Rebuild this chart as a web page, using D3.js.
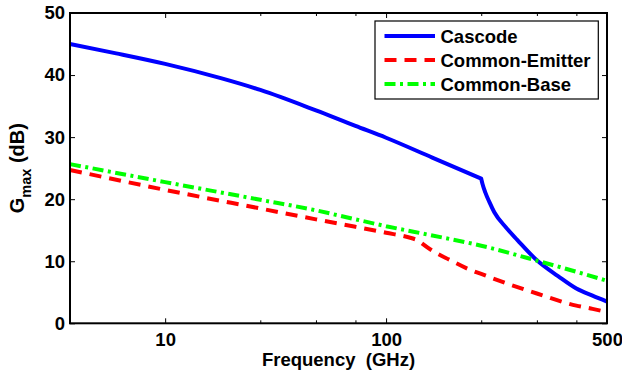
<!DOCTYPE html>
<html>
<head>
<meta charset="utf-8">
<script src="https://cdn.jsdelivr.net/npm/d3@7"></script>
<style>
  html, body { margin: 0; padding: 0; background: #fff; }
  svg { display: block; }
  text { font-family: "Liberation Sans", Arial, Helvetica, sans-serif; font-weight: bold; fill: #000; white-space: pre; }
</style>
</head>
<body>
<svg id="chart" width="622" height="379"></svg>
<script>
// Sweep points on the (log) frequency axis, in axis units
const cascodeX = [5, 7, 10, 15, 20, 30, 40, 50, 70, 100, 101, 103, 106, 110, 120, 130, 150, 175, 200, 225, 250];
const cascodeY = [45.0, 43.5, 41.8, 39.5, 37.6, 34.3, 31.8, 29.9, 26.7, 23.3, 22.4, 21.1, 19.6, 17.9, 15.4, 13.45, 10.15, 7.6, 5.6, 4.45, 3.5];
const cascodeBreak = 100;

const emitterX = [5, 10, 20, 30, 40, 50, 60, 63, 70, 80, 90, 100, 120, 150, 200, 225, 250];
const emitterY = [24.7, 21.5, 18.5, 16.75, 15.55, 14.6, 13.75, 13.4, 11.7, 10.15, 8.85, 7.95, 6.45, 4.8, 2.85, 2.33, 1.8];
const emitterBreak = 63;

const baseX = [5, 10, 20, 30, 40, 50, 70, 100, 150, 200, 250];
const baseY = [25.65, 22.75, 19.9, 18.2, 16.75, 15.65, 14.15, 12.5, 10.1, 8.3, 6.85];
const baseBreak = null;

const seriesNames = ["Cascode", "Common-Emitter", "Common-Base"];

// Axis ticks
const xMajorTicks = [10, 50, 250];
const xTickLabels = ["10", "100", "500"];
const xMinorTicks = [20, 30, 40, 100, 150, 200];
const yTicks = [0, 10, 20, 30, 40, 50];

const xLabel = "Frequency  (GHz)";

const margin = { left: 70, right: 607, top: 13, bottom: 323.3 };
const svg = d3.select("#chart");

const x = d3.scaleLog().domain([5, 250]).range([margin.left, margin.right]);
const y = d3.scaleLinear().domain([0, 50]).range([margin.bottom, margin.top]);

const styles = [
  { color: "#0000ff", dash: null },
  { color: "#ff0000", dash: "12,8" },
  { color: "#00ff00", dash: "11,4.5,3,4.5" }
];

const series = [
  { name: seriesNames[0], xs: cascodeX, ys: cascodeY, brk: cascodeBreak, ...styles[0] },
  { name: seriesNames[1], xs: emitterX, ys: emitterY, brk: emitterBreak, ...styles[1] },
  { name: seriesNames[2], xs: baseX, ys: baseY, brk: baseBreak, ...styles[2] }
];

const fontSize = 18.5;

// Axes: ticks point inward on all four sides
function styleAxis(g) {
  g.select(".domain").remove();
  g.selectAll("line").attr("stroke", "#000").attr("stroke-width", 1);
  g.selectAll("text").attr("font-size", fontSize).attr("font-weight", "bold")
    .attr("font-family", "Liberation Sans, Arial, sans-serif").attr("fill", "#000");
}

const majorFmt = (d) => xTickLabels[xMajorTicks.indexOf(d)];

svg.append("g").attr("transform", `translate(0,${margin.bottom})`)
  .call(d3.axisBottom(x).tickValues(xMajorTicks).tickFormat(majorFmt).tickSize(-5).tickPadding(10))
  .call(styleAxis);
svg.append("g").attr("transform", `translate(0,${margin.bottom})`)
  .call(d3.axisBottom(x).tickValues(xMinorTicks).tickFormat("").tickSize(-3))
  .call(styleAxis);
svg.append("g").attr("transform", `translate(0,${margin.top})`)
  .call(d3.axisTop(x).tickValues(xMajorTicks).tickFormat("").tickSize(-5))
  .call(styleAxis);
svg.append("g").attr("transform", `translate(0,${margin.top})`)
  .call(d3.axisTop(x).tickValues(xMinorTicks).tickFormat("").tickSize(-3))
  .call(styleAxis);
svg.append("g").attr("transform", `translate(${margin.left},0)`)
  .call(d3.axisLeft(y).tickValues(yTicks).tickFormat(d3.format("d")).tickSize(-5).tickPadding(5))
  .call(styleAxis);
svg.append("g").attr("transform", `translate(${margin.right},0)`)
  .call(d3.axisRight(y).tickValues(yTicks).tickFormat("").tickSize(-5))
  .call(styleAxis);

// Curves: smooth on each side of a break point, with a sharp corner at the break
const line = d3.line().x(d => x(d[0])).y(d => y(d[1])).curve(d3.curveMonotoneX);
function curvePath(s) {
  const pts = s.xs.map((v, i) => [v, s.ys[i]]);
  if (s.brk == null) return line(pts);
  const a = pts.filter(p => p[0] <= s.brk);
  const b = pts.filter(p => p[0] >= s.brk);
  const tail = line(b).replace(/^M[^A-Za-z]*/, "");
  return line(a) + tail;
}
const plot = svg.append("g");
series.forEach(s => {
  plot.append("path")
    .attr("d", curvePath(s))
    .attr("fill", "none")
    .attr("stroke", s.color)
    .attr("stroke-width", 4)
    .attr("stroke-linejoin", "round")
    .attr("stroke-dasharray", s.dash);
});

// Plot frame
svg.append("rect")
  .attr("x", margin.left).attr("y", margin.top)
  .attr("width", margin.right - margin.left).attr("height", margin.bottom - margin.top)
  .attr("fill", "none").attr("stroke", "#000").attr("stroke-width", 2);

// Legend
const legend = svg.append("g");
legend.append("rect")
  .attr("x", 375).attr("y", 21).attr("width", 223.3).attr("height", 78)
  .attr("fill", "#fff").attr("stroke", "#000").attr("stroke-width", 1.2);
series.forEach((s, i) => {
  const cy = 36 + i * 24;
  legend.append("line")
    .attr("x1", 384.5).attr("x2", 435).attr("y1", cy).attr("y2", cy)
    .attr("stroke", s.color).attr("stroke-width", 4)
    .attr("stroke-dasharray", s.dash);
  legend.append("text")
    .attr("x", 440.5).attr("y", cy).attr("dy", "0.36em")
    .attr("font-size", fontSize)
    .text(s.name);
});

// Axis titles
svg.append("text")
  .attr("x", (margin.left + margin.right) / 2).attr("y", 366)
  .attr("text-anchor", "middle").attr("font-size", fontSize)
  .text(xLabel);

const yTitle = svg.append("text")
  .attr("transform", `translate(24,${(margin.top + margin.bottom) / 2}) rotate(-90)`)
  .attr("text-anchor", "middle").attr("font-size", 20);
yTitle.append("tspan").text("G");
yTitle.append("tspan").attr("font-size", 14.5).attr("dy", 7).text("max");
yTitle.append("tspan").attr("dy", -7).text(" (dB)");
</script>
</body>
</html>
